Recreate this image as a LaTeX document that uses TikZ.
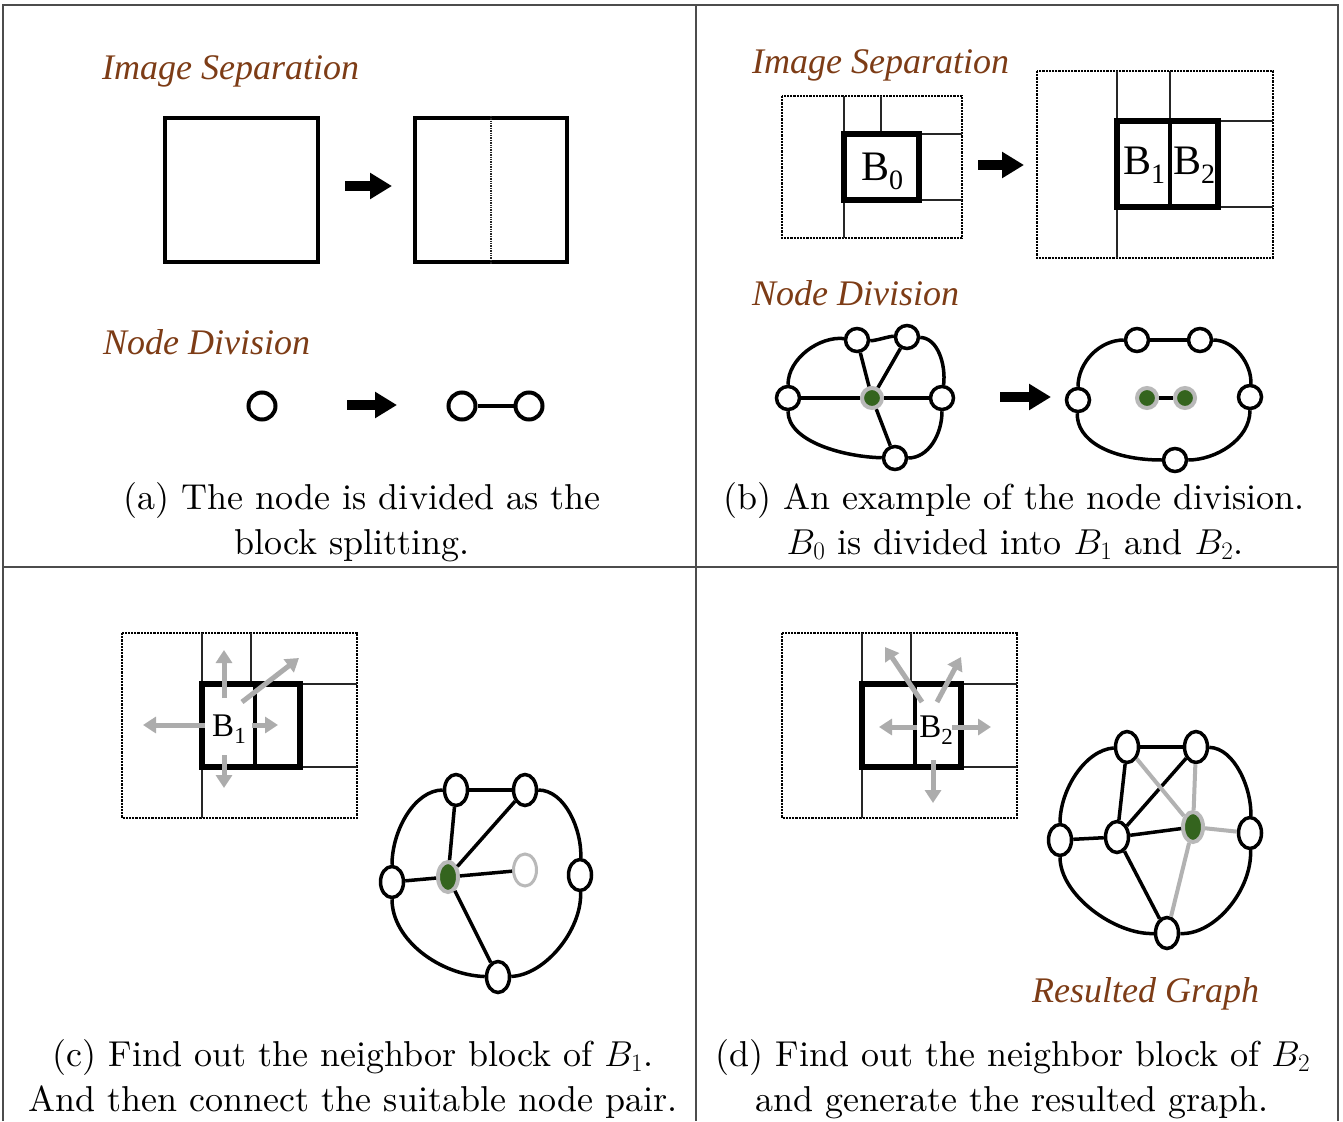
\documentclass[tikz,border=0pt]{standalone}
\usepackage{fix-cm}
\usepackage{fontspec}
\newfontfamily\tnr{Liberation Serif}
\newfontfamily\capfont{lmroman10-regular.otf}
\usetikzlibrary{arrows.meta,shapes.geometric}
\definecolor{headcol}{RGB}{125,60,22}
\definecolor{nodegreen}{RGB}{52,100,30}
\tikzset{
  frameline/.style={line width=2pt, black!70},
  sqbox/.style={draw, line width=4.5pt, inner sep=0pt},
  thickbox/.style={line width=6pt},
  outerdot/.style={line width=2.2pt, densely dotted},
  gridline/.style={line width=1.4pt, black!85},
  bigarrow/.style={line width=10pt, -{Triangle[length=22pt,width=25pt]}},
  grayarrow/.style={gray!65, line width=5pt, -{Triangle[length=13pt,width=16pt]}},
  vtx/.style={circle, draw, fill=white, line width=3.5pt, inner sep=0pt, minimum size=23pt},
  bigvtx/.style={circle, draw, fill=white, line width=4pt, inner sep=0pt, minimum size=27pt},
  evtx/.style={ellipse, draw, fill=white, line width=3.5pt, inner sep=0pt, minimum width=23pt, minimum height=31pt},
  gvtx/.style={circle, draw=gray!55, fill=nodegreen, line width=4pt, inner sep=0pt, minimum size=20pt},
  gevtx/.style={ellipse, draw=gray!55, fill=nodegreen, line width=4pt, inner sep=0pt, minimum width=20pt, minimum height=30pt},
  ghostvtx/.style={ellipse, draw=gray!55, fill=white, line width=3pt, inner sep=0pt, minimum width=23pt, minimum height=32pt},
  edge/.style={line width=3.5pt},
  grayedge/.style={gray!60, line width=4pt},
  heading/.style={font=\fontsize{36}{40}\selectfont\tnr\itshape, text=headcol, anchor=base west, inner sep=0pt},
  capline/.style={font=\fontsize{36}{45}\selectfont\capfont, anchor=base, inner sep=0pt},
  blabel/.style={font=\fontsize{42}{42}\selectfont\tnr, inner sep=0pt},
  slabel/.style={font=\fontsize{33}{33}\selectfont\tnr, inner sep=0pt}
}
\begin{document}
\begin{tikzpicture}[x=1pt,y=-1pt]
\useasboundingbox (0,0) rectangle (1343,1121);
\fill[white] (0,0) rectangle (1343,1121);

% frame
\draw[frameline] (3,1121) -- (3,5) -- (1338,5) -- (1338,1121);
\draw[frameline] (696,5) -- (696,1121);
\draw[frameline] (3,567) -- (1338,567);

% ---------------- panel (a)
\node[heading] (headA1) at (102,80) {Image Separation};
\node[sqbox, minimum width=153pt, minimum height=144pt] (sqA) at (241.5,190) {};
\node[sqbox, minimum width=152pt, minimum height=144pt] (sqB) at (491,190) {};
\draw[gridline, densely dotted, line width=1.5pt] (sqB.north) -- (sqB.south);
\coordinate (arA1) at (345,186);
\coordinate (arA2) at (392,186);
\draw[bigarrow] (arA1) -- (arA2);

\node[heading] (headA2) at (103,354) {Node Division};
\node[bigvtx] (na0) at (262,406) {};
\coordinate (arA3) at (347,405);
\coordinate (arA4) at (397,405);
\draw[bigarrow] (arA3) -- (arA4);
\node[bigvtx] (na1) at (462,406) {};
\node[bigvtx] (na2) at (529,406) {};
\draw[edge] (na1) -- (na2);

\node[capline] (capA1) at (362,509) {(a) The node is divided as the};
\node[capline] (capA2) at (352,554) {block splitting.};

% ---------------- panel (b)
\node[heading] (headB1) at (752,74) {Image Separation};
% left grid
\draw[outerdot] (782,96) rectangle (962,238);
\draw[gridline] (844,96) -- (844,238);
\draw[gridline] (881,96) -- (881,134);
\draw[gridline] (919,134) -- (962,134);
\draw[gridline] (919,200) -- (962,200);
\draw[thickbox] (844,134) rectangle (919,200);
\node[blabel] (b0) at (882,171) {B\raisebox{-9pt}{\fontsize{28}{28}\selectfont 0}};
\coordinate (arB1) at (978,165);
\coordinate (arB2) at (1024,165);
\draw[bigarrow] (arB1) -- (arB2);
% right grid
\draw[outerdot] (1037,71) rectangle (1273,258);
\draw[gridline] (1117,71) -- (1117,258);
\draw[gridline] (1170,71) -- (1170,121);
\draw[gridline] (1218,121) -- (1273,121);
\draw[gridline] (1218,207) -- (1273,207);
\draw[thickbox] (1117,121) rectangle (1218,207);
\draw[line width=4pt] (1170,121) -- (1170,207);
\node[blabel] (b1) at (1144,165) {B\raisebox{-9pt}{\fontsize{28}{28}\selectfont 1}};
\node[blabel] (b2) at (1194,165) {B\raisebox{-9pt}{\fontsize{28}{28}\selectfont 2}};

\node[heading] (headB2) at (752,305) {Node Division};
% left graph
\node[vtx] (bL) at (788,398) {};
\node[vtx] (bTL) at (857,340) {};
\node[vtx] (bTR) at (907,337) {};
\node[vtx] (bR) at (942,398) {};
\node[vtx] (bB) at (895,458) {};
\node[gvtx] (bC) at (872,398) {};
\draw[edge] (bL) .. controls (788,358) and (820,336) .. (bTL);
\draw[edge] (bTL) .. controls (875,341) and (890,336) .. (bTR);
\draw[edge] (bTR) .. controls (938,338) and (946,365) .. (bR);
\draw[edge] (bR) .. controls (942,435) and (928,458) .. (bB);
\draw[edge] (bB) .. controls (845,457) and (788,442) .. (bL);
\draw[edge] (bC) -- (bL);
\draw[edge] (bC) -- (bR);
\draw[edge] (bC) -- (bTL);
\draw[edge] (bC) -- (bTR);
\draw[edge] (bC) -- (bB);
\coordinate (arB3) at (1000,397);
\coordinate (arB4) at (1051,397);
\draw[bigarrow] (arB3) -- (arB4);
% right graph
\node[vtx] (cL) at (1078,400) {};
\node[vtx] (cTL) at (1137,340) {};
\node[vtx] (cTR) at (1200,340) {};
\node[vtx] (cR) at (1250,397) {};
\node[vtx] (cB) at (1175,460) {};
\node[gvtx] (cG1) at (1147,398) {};
\node[gvtx] (cG2) at (1185,398) {};
\draw[edge] (cL) .. controls (1078,362) and (1100,340) .. (cTL);
\draw[edge] (cTL) -- (cTR);
\draw[edge] (cTR) .. controls (1235,340) and (1252,365) .. (cR);
\draw[edge] (cR) .. controls (1250,440) and (1215,460) .. (cB);
\draw[edge] (cB) .. controls (1110,460) and (1076,440) .. (cL);
\draw[edge] (cG1) -- (cG2);

\node[capline] (capB1) at (1014,509) {(b) An example of the node division.};
\node[capline] (capB2) at (1015,554) {$B_0$ is divided into $B_1$ and $B_2$.};

% ---------------- panel (c)
\draw[outerdot] (122,633) rectangle (357,818);
\draw[gridline] (202,633) -- (202,818);
\draw[gridline] (251,633) -- (251,684);
\draw[gridline] (300,684) -- (357,684);
\draw[gridline] (300,767) -- (357,767);
\draw[thickbox] (202,684) rectangle (300,767);
\draw[line width=4pt] (255,684) -- (255,767);
\coordinate (pc0) at (224,698);
\coordinate (pc1) at (224,650);
\coordinate (pc2) at (205,725);
\coordinate (pc3) at (143,725);
\coordinate (pc4) at (252,725);
\coordinate (pc5) at (278,725);
\coordinate (pc6) at (224,755);
\coordinate (pc7) at (224,788);
\coordinate (pc8) at (242,702);
\coordinate (pc9) at (299,658);
\draw[grayarrow] (pc0) -- (pc1);
\draw[grayarrow] (pc2) -- (pc3);
\draw[grayarrow] (pc4) -- (pc5);
\draw[grayarrow] (pc6) -- (pc7);
\draw[grayarrow] (pc8) -- (pc9);
\node[slabel] (lc1) at (229,729) {B\raisebox{-7pt}{\fontsize{23}{23}\selectfont 1}};

\node[evtx] (dL) at (392,882) {};
\node[evtx] (dTL) at (456,790) {};
\node[evtx] (dTR) at (525,790) {};
\node[evtx] (dR) at (580,875) {};
\node[evtx] (dB) at (498,977) {};
\node[gevtx] (dG) at (448,877) {};
\node[ghostvtx] (dX) at (525,870) {};
\draw[edge] (dL) .. controls (392,830) and (415,790) .. (dTL);
\draw[edge] (dTL) -- (dTR);
\draw[edge] (dTR) .. controls (565,790) and (582,830) .. (dR);
\draw[edge] (dR) .. controls (582,930) and (545,975) .. (dB);
\draw[edge] (dB) .. controls (440,975) and (392,940) .. (dL);
\draw[edge] (dG) -- (dTL);
\draw[edge] (dG) -- (dTR);
\draw[edge] (dG) -- (dL);
\draw[edge] (dG) -- (dX);
\draw[edge] (dG) -- (dB);

\node[capline] (capC1) at (353,1066) {(c) Find out the neighbor block of $B_1$.};
\node[capline] (capC2) at (353,1111) {And then connect the suitable node pair.};

% ---------------- panel (d)
\draw[outerdot] (782,633) rectangle (1017,818);
\draw[gridline] (862,633) -- (862,818);
\draw[gridline] (911,633) -- (911,684);
\draw[gridline] (961,684) -- (1017,684);
\draw[gridline] (961,767) -- (1017,767);
\draw[thickbox] (862,684) rectangle (961,767);
\draw[line width=4pt] (915,684) -- (915,767);
\coordinate (pd0) at (917,727);
\coordinate (pd1) at (879,727);
\coordinate (pd2) at (952,727);
\coordinate (pd3) at (991,727);
\coordinate (pd4) at (933,760);
\coordinate (pd5) at (933,803);
\coordinate (pd6) at (922,702);
\coordinate (pd7) at (885,647);
\coordinate (pd8) at (937,702);
\coordinate (pd9) at (961,657);
\draw[grayarrow] (pd0) -- (pd1);
\draw[grayarrow] (pd2) -- (pd3);
\draw[grayarrow] (pd4) -- (pd5);
\draw[grayarrow] (pd6) -- (pd7);
\draw[grayarrow] (pd8) -- (pd9);
\node[slabel] (ld2) at (936,730) {B\raisebox{-7pt}{\fontsize{23}{23}\selectfont 2}};

\node[evtx] (eL) at (1060,840) {};
\node[evtx] (eTL) at (1127,747) {};
\node[evtx] (eTR) at (1196,747) {};
\node[evtx] (eI) at (1117,837) {};
\node[gevtx] (eG) at (1193,827) {};
\node[evtx] (eR) at (1250,833) {};
\node[evtx] (eB) at (1167,933) {};
\draw[edge] (eL) .. controls (1060,790) and (1085,750) .. (eTL);
\draw[edge] (eTL) -- (eTR);
\draw[edge] (eTR) .. controls (1235,748) and (1252,790) .. (eR);
\draw[edge] (eR) .. controls (1252,890) and (1215,935) .. (eB);
\draw[edge] (eB) .. controls (1115,935) and (1060,895) .. (eL);
\draw[edge] (eL) -- (eI);
\draw[edge] (eI) -- (eTL);
\draw[edge] (eI) -- (eTR);
\draw[edge] (eI) -- (eG);
\draw[edge] (eI) -- (eB);
\draw[grayedge] (eG) -- (eTL);
\draw[grayedge] (eG) -- (eTR);
\draw[grayedge] (eG) -- (eR);
\draw[grayedge] (eG) -- (eB);
\node[heading] (headD) at (1032,1002) {Resulted Graph};

\node[capline] (capD1) at (1013,1066) {(d) Find out the neighbor block of $B_2$};
\node[capline] (capD2) at (1012,1111) {and generate the resulted graph.};
\end{tikzpicture}
\end{document}
